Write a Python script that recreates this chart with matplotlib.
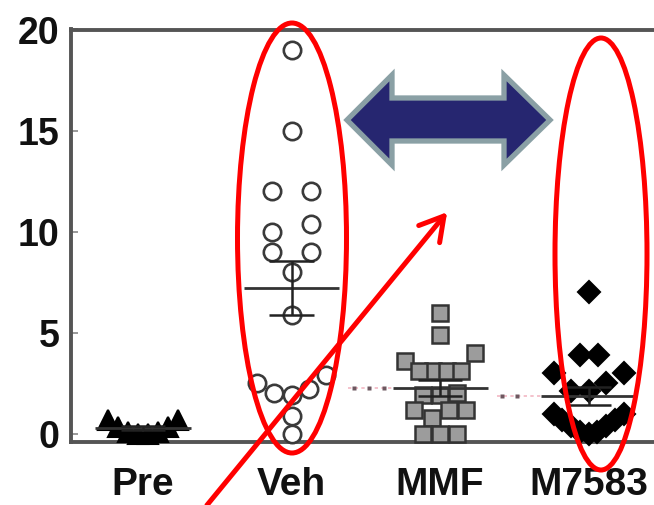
import numpy as np
import matplotlib
matplotlib.use("Agg")
import matplotlib.pyplot as plt
from matplotlib.patches import Ellipse, Polygon

# values
GROUPS = ["Pre", "Veh", "MMF", "M7583"]
PRE = [0.0, 0.0, 0.1, 0.1, 0.35, 0.35, 0.7, 0.7]
VEH = [19.0, 15.0, 12.0, 12.0, 10.4, 10.0, 9.0, 9.0, 8.0, 5.9,
       2.9, 2.5, 2.2, 2.0, 1.9, 0.9, 0.0]
MMF = [6.0, 4.9, 4.0, 3.6, 3.1, 3.1, 3.1, 3.1, 2.0, 1.9, 1.9,
       1.2, 1.2, 1.2, 0.8, 0.0, 0.0, 0.0]
M7583 = [7.0, 3.9, 3.9, 3.0, 3.0, 2.5, 2.1, 2.1, 1.0, 1.0,
         0.7, 0.7, 0.4, 0.4, 0.1, 0.1, 0.0]
Y_TICKS = [0, 5, 10, 15, 20]
SIG_DOTS = {"MMF": 3, "M7583": 2}

W, H = 654, 505
FONT = "Liberation Sans"

STYLES = {
    "Pre": dict(marker="^", ms=15, mfc="black", mec="black", mew=1.5, step=0.12),
    "Veh": dict(marker="o", ms=12.5, mfc="white", mec="#3a3a3a", mew=1.9, step=0.26),
    "MMF": dict(marker="s", ms=12, mfc="#9c9c9c", mec="#333333", mew=1.8, step=0.115),
    "M7583": dict(marker="D", ms=11, mfc="black", mec="black", mew=1.5, step=0.12),
}


def column_scatter(values, step, max_span=0.47, gap=0.75, span=1.05):
    """Prism style column scatter: group close values into rows, spread each row."""
    vals = np.asarray(values, dtype=float)
    order = np.argsort(vals, kind="stable")
    rows, cur = [], [order[0]]
    for i in order[1:]:
        if vals[i] - vals[cur[-1]] > gap or vals[i] - vals[cur[0]] > span:
            rows.append(cur)
            cur = [i]
        else:
            cur.append(i)
    rows.append(cur)

    xs = np.zeros(len(vals))
    for row in rows:
        n = len(row)
        s = step if n < 2 else min(step, max_span / (n - 1))
        slots = (np.arange(n) - (n - 1) / 2) * s
        slots = sorted(slots, key=lambda v: (round(abs(v), 6), v))
        for idx, off in zip(row, slots):
            xs[idx] = off
    return xs


fig = plt.figure(figsize=(W / 100, H / 100), dpi=100)
ax = fig.add_axes([70.5 / W, 1 - 442 / H, (W - 70.5) / W, (442 - 29.5) / H])
ax.set_xlim(-0.488, 3.44)
ax.set_ylim(-0.4, 20)

data = {"Pre": PRE, "Veh": VEH, "MMF": MMF, "M7583": M7583}
for gi, name in enumerate(GROUPS):
    vals = np.asarray(data[name])
    st = dict(STYLES[name])
    step = st.pop("step")
    xs = gi + column_scatter(vals, step)
    ax.plot(xs, vals, linestyle="none", zorder=3, clip_on=False, **st)

    mean = vals.mean()
    sem = vals.std(ddof=1) / np.sqrt(len(vals))
    ax.hlines(mean, gi - 0.32, gi + 0.32, color="#333333", lw=2.0, zorder=4)
    ax.vlines(gi, mean - sem, mean + sem, color="#222222", lw=1.8, zorder=4)
    ax.hlines([mean - sem, mean + sem], gi - 0.15, gi + 0.15,
              color="#222222", lw=1.8, zorder=4)

    if name in SIG_DOTS:
        ax.plot([gi - 0.62, gi - 0.32], [mean, mean], color="#f2b8c4",
                lw=1.2, ls=(0, (2, 2)), zorder=2)
        dx = gi - 0.58 + 0.1 * np.arange(SIG_DOTS[name])
        ax.plot(dx, np.full(len(dx), mean), "s", ms=3.4, color="#6e5860",
                mec="none", zorder=2)

for side in ["top", "left", "bottom"]:
    ax.spines[side].set_color("#555555")
    ax.spines[side].set_linewidth(2.8)
ax.spines["right"].set_visible(False)

ax.set_yticks(Y_TICKS)
ax.set_xticks(range(len(GROUPS)))
ax.set_xticklabels(GROUPS)
ax.tick_params(axis="y", direction="in", length=5, width=1.2, color="#888888",
               pad=8, labelsize=27)
ax.tick_params(axis="x", length=0, pad=18, labelsize=28)
for lab in ax.get_xticklabels() + ax.get_yticklabels():
    lab.set_fontfamily(FONT)
    lab.set_fontweight("bold")
    lab.set_color("#111111")

# annotation layer in pixel coordinates
ov = fig.add_axes([0, 0, 1, 1], zorder=5)
ov.set_xlim(0, W)
ov.set_ylim(H, 0)
ov.axis("off")
ov.patch.set_alpha(0)

ov.add_patch(Ellipse((292, 238), 109, 430, fill=False, ec="red", lw=3.6))
ov.add_patch(Ellipse((601, 254), 92, 432, fill=False, ec="red", lw=3.6))

start = np.array([203.0, 510.0])
tip = np.array([444.0, 216.0])
ov.plot([start[0], tip[0]], [start[1], tip[1]], color="red", lw=3.6,
        solid_capstyle="butt")
u = (start - tip) / np.linalg.norm(start - tip)
for ang in (np.radians(30), -np.radians(30)):
    rot = np.array([[np.cos(ang), -np.sin(ang)], [np.sin(ang), np.cos(ang)]])
    barb = tip + 27 * rot @ u
    ov.plot([tip[0], barb[0]], [tip[1], barb[1]], color="red", lw=3.6,
            solid_capstyle="round")

arrow_pts = [(347, 120), (392, 75), (392, 98), (504, 98), (504, 75),
             (550, 120), (504, 165), (504, 141), (392, 141), (392, 165)]
ov.add_patch(Polygon(arrow_pts, closed=True, fc="#262670", ec="#8aa0a5",
                     lw=3.8, joinstyle="miter"))

fig.savefig("out.png", dpi=100)
